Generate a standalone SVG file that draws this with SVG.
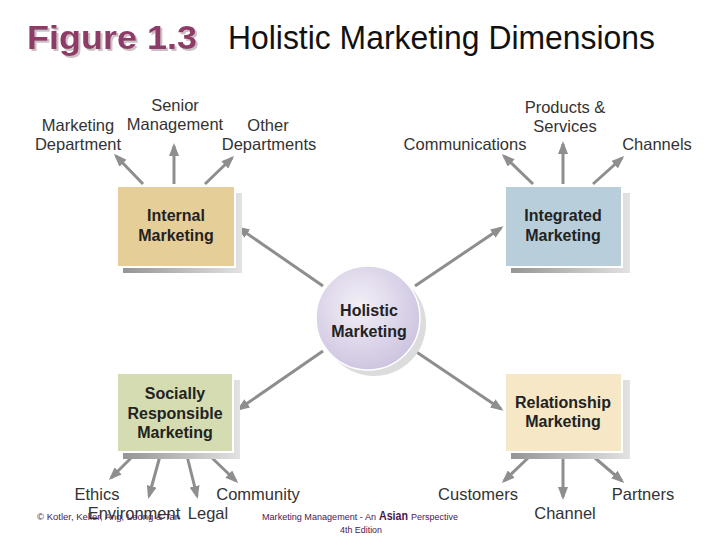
<svg xmlns="http://www.w3.org/2000/svg" width="720" height="540" viewBox="0 0 720 540">
<defs>
<style>
.lbl{font-family:"Liberation Sans",Arial,sans-serif;font-size:16.5px;fill:#333;text-anchor:middle}
.nd{font-family:"Liberation Sans",Arial,sans-serif;font-size:16px;font-weight:bold;fill:#222;text-anchor:middle}
.con{stroke:#8e8e8e;stroke-width:3;fill:none;marker-end:url(#ah)}
.ft{font-family:"Liberation Sans",Arial,sans-serif;fill:#4b1650}
</style>
<filter id="tsh" x="-5%" y="-20%" width="115%" height="150%">
<feDropShadow dx="2" dy="2" stdDeviation="0.5" flood-color="#cdbfc7"/>
</filter>
<marker id="ah" markerUnits="userSpaceOnUse" markerWidth="13" markerHeight="10" refX="10" refY="5" orient="auto" viewBox="0 0 13 10">
<polygon points="0,0 13,5 0,10" fill="#8e8e8e"/>
</marker>
<linearGradient id="sh" x1="0" y1="0" x2="1" y2="0">
<stop offset="0" stop-color="#959595"/>
<stop offset="1" stop-color="#e2e2e2"/>
</linearGradient>
<radialGradient id="cg" cx="0.42" cy="0.38" r="0.65">
<stop offset="0" stop-color="#f3f0f7"/>
<stop offset="1" stop-color="#cdc3e0"/>
</radialGradient>
</defs>
<rect width="720" height="540" fill="#fff"/>

<g id="title">
<text x="27" y="49" font-family="Liberation Sans,Arial,sans-serif" font-size="34" font-weight="bold" fill="#8e3b68" textLength="170" lengthAdjust="spacingAndGlyphs" filter="url(#tsh)">Figure 1.3</text>
<text x="228" y="49" font-family="Liberation Sans,Arial,sans-serif" font-size="33" fill="#111" textLength="427" lengthAdjust="spacingAndGlyphs">Holistic Marketing Dimensions</text>
</g>

<g id="connectors">
<line class="con" x1="323" y1="286" x2="239" y2="228"/>
<line class="con" x1="415" y1="286" x2="501" y2="228"/>
<line class="con" x1="323" y1="351" x2="239" y2="409"/>
<line class="con" x1="415" y1="351" x2="501" y2="409"/>
<line class="con" x1="143" y1="184" x2="116" y2="156"/>
<line class="con" x1="174" y1="184" x2="174" y2="146"/>
<line class="con" x1="205" y1="184" x2="232" y2="158"/>
<line class="con" x1="533" y1="184" x2="504" y2="156"/>
<line class="con" x1="563" y1="184" x2="563" y2="144"/>
<line class="con" x1="593" y1="184" x2="622" y2="158"/>
<line class="con" x1="133" y1="456" x2="111" y2="478"/>
<line class="con" x1="160" y1="456" x2="149" y2="496"/>
<line class="con" x1="187" y1="456" x2="197" y2="496"/>
<line class="con" x1="210" y1="456" x2="236" y2="481"/>
<line class="con" x1="528" y1="458" x2="504" y2="481"/>
<line class="con" x1="563" y1="458" x2="563" y2="497"/>
<line class="con" x1="595" y1="458" x2="622" y2="481"/>
</g>

<g id="internal">
<rect x="123" y="193" width="119" height="80" fill="url(#sh)"/>
<rect x="117" y="186" width="118" height="81" fill="#e6ce98" stroke="#fff" stroke-width="2"/>
<text class="nd" x="176" y="221">Internal</text>
<text class="nd" x="176" y="241">Marketing</text>
</g>

<g id="integrated">
<rect x="511" y="193" width="119" height="80" fill="url(#sh)"/>
<rect x="505" y="186" width="117" height="81" fill="#b9cedb" stroke="#fff" stroke-width="2"/>
<text class="nd" x="563" y="221">Integrated</text>
<text class="nd" x="563" y="241">Marketing</text>
</g>

<g id="socially">
<rect x="123" y="380" width="117" height="79" fill="url(#sh)"/>
<rect x="117" y="373" width="116" height="79" fill="#d5dcb1" stroke="#fff" stroke-width="2"/>
<text class="nd" x="175" y="399">Socially</text>
<text class="nd" x="175" y="419">Responsible</text>
<text class="nd" x="175" y="438">Marketing</text>
</g>

<g id="relationship">
<rect x="511" y="380" width="119" height="79" fill="url(#sh)"/>
<rect x="505" y="373" width="117" height="79" fill="#f6e7c7" stroke="#fff" stroke-width="2"/>
<text class="nd" x="563" y="408">Relationship</text>
<text class="nd" x="563" y="427">Marketing</text>
</g>

<g id="holistic">
<circle cx="374" cy="324" r="52" fill="#dcdcdc"/>
<circle cx="368" cy="318" r="52" fill="url(#cg)" stroke="#fff" stroke-width="1.5"/>
<text class="nd" x="369" y="316" font-size="18">Holistic</text>
<text class="nd" x="369" y="337" font-size="18">Marketing</text>
</g>

<g id="labels-internal">
<text class="lbl" x="78" y="131">Marketing</text>
<text class="lbl" x="78" y="150">Department</text>
<text class="lbl" x="175" y="111">Senior</text>
<text class="lbl" x="175" y="130">Management</text>
<text class="lbl" x="268" y="131">Other</text>
<text class="lbl" x="269" y="150">Departments</text>
</g>

<g id="labels-integrated">
<text class="lbl" x="565" y="113">Products &amp;</text>
<text class="lbl" x="565" y="132">Services</text>
<text class="lbl" x="465" y="150">Communications</text>
<text class="lbl" x="657" y="150">Channels</text>
</g>

<g id="labels-socially">
<text class="lbl" x="97" y="500">Ethics</text>
<text class="lbl" x="134" y="519">Environment</text>
<text class="lbl" x="208" y="519">Legal</text>
<text class="lbl" x="258" y="500">Community</text>
</g>

<g id="labels-relationship">
<text class="lbl" x="478" y="500">Customers</text>
<text class="lbl" x="565" y="519">Channel</text>
<text class="lbl" x="643" y="500">Partners</text>
</g>

<g id="footer">
<text class="ft" x="37" y="520" font-size="8.5" textLength="143" lengthAdjust="spacingAndGlyphs">© Kotler, Keller, Ang, Leong &amp; Tan</text>
<text class="ft" x="262" y="520" font-size="8.5" textLength="114" lengthAdjust="spacingAndGlyphs">Marketing Management - An</text>
<text class="ft" x="379" y="520" font-size="12" font-weight="bold" fill="#5a1a63" textLength="29" lengthAdjust="spacingAndGlyphs">Asian</text>
<text class="ft" x="411" y="520" font-size="8.5" fill="#222" textLength="47" lengthAdjust="spacingAndGlyphs">Perspective</text>
<text class="ft" x="340" y="533" font-size="8.5" fill="#222" textLength="42" lengthAdjust="spacingAndGlyphs">4th Edition</text>
</g>
</svg>
